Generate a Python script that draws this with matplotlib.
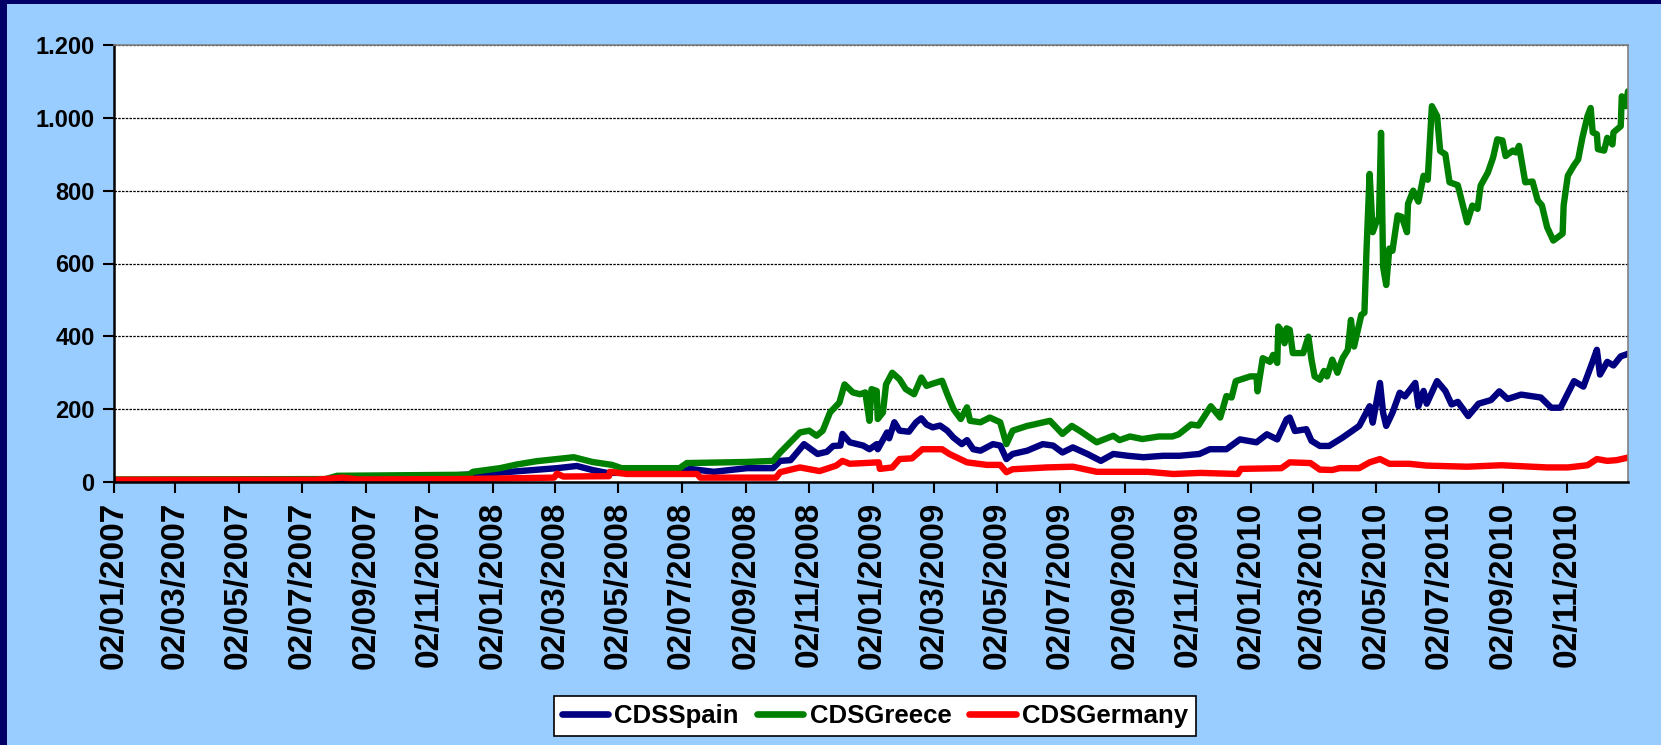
import matplotlib
matplotlib.use('Agg')
import matplotlib.pyplot as plt
import matplotlib.dates as mdates
import matplotlib.ticker as mticker
from matplotlib.patches import Rectangle
import pandas as pd

# values (bps)
greece_dates = ['2007-01-02', '2007-07-25', '2007-08-05', '2007-12-10', '2007-12-14', '2008-01-09',
                '2008-01-25', '2008-02-13', '2008-03-20', '2008-04-07', '2008-04-26', '2008-05-05',
                '2008-06-30', '2008-07-07', '2008-09-03', '2008-09-28', '2008-10-05', '2008-10-24',
                '2008-11-02', '2008-11-09', '2008-11-15', '2008-11-22', '2008-12-01', '2008-12-06',
                '2008-12-14', '2008-12-21', '2008-12-26', '2008-12-30', '2009-01-01', '2009-01-06',
                '2009-01-07', '2009-01-12', '2009-01-15', '2009-01-21', '2009-01-28', '2009-02-03',
                '2009-02-11', '2009-02-18', '2009-02-23', '2009-03-01', '2009-03-10', '2009-03-15',
                '2009-03-21', '2009-03-28', '2009-04-03', '2009-04-06', '2009-04-16', '2009-04-25',
                '2009-05-05', '2009-05-11', '2009-05-17', '2009-05-31', '2009-06-05', '2009-06-22',
                '2009-07-04', '2009-07-13', '2009-07-21', '2009-08-06', '2009-08-22', '2009-08-28',
                '2009-09-07', '2009-09-19', '2009-10-05', '2009-10-18', '2009-10-24', '2009-11-05',
                '2009-11-12', '2009-11-24', '2009-12-03', '2009-12-09', '2009-12-14', '2009-12-18',
                '2010-01-01', '2010-01-07', '2010-01-08', '2010-01-13', '2010-01-20', '2010-01-23',
                '2010-01-27', '2010-01-28', '2010-01-31', '2010-02-03', '2010-02-05', '2010-02-08',
                '2010-02-11', '2010-02-21', '2010-02-26', '2010-03-01', '2010-03-04', '2010-03-09',
                '2010-03-13', '2010-03-16', '2010-03-21', '2010-03-26', '2010-03-31', '2010-04-05',
                '2010-04-08', '2010-04-11', '2010-04-18', '2010-04-21', '2010-04-23', '2010-04-26',
                '2010-04-29', '2010-05-03', '2010-05-05', '2010-05-07', '2010-05-09', '2010-05-12',
                '2010-05-15', '2010-05-18', '2010-05-23', '2010-05-27', '2010-06-01', '2010-06-02',
                '2010-06-07', '2010-06-12', '2010-06-17', '2010-06-21', '2010-06-25', '2010-06-30',
                '2010-07-03', '2010-07-08', '2010-07-12', '2010-07-20', '2010-07-29', '2010-08-03',
                '2010-08-08', '2010-08-11', '2010-08-18', '2010-08-23', '2010-08-27', '2010-09-01',
                '2010-09-04', '2010-09-11', '2010-09-14', '2010-09-17', '2010-09-23', '2010-09-30',
                '2010-10-05', '2010-10-09', '2010-10-14', '2010-10-20', '2010-10-29', '2010-10-30',
                '2010-11-03', '2010-11-09', '2010-11-13', '2010-11-17', '2010-11-22', '2010-11-25',
                '2010-11-27', '2010-12-01', '2010-12-02', '2010-12-08', '2010-12-11', '2010-12-16',
                '2010-12-17', '2010-12-24', '2010-12-25', '2010-12-29', '2010-12-31']
greece_vals = [7, 8, 17, 20, 28, 38,
               48, 57, 68, 55, 47, 38,
               38, 52, 55, 58, 81, 136,
               141, 127, 141, 191, 218, 268,
               246, 241, 246, 168, 255, 250,
               173, 191, 268, 300, 282, 255,
               241, 287, 264, 270, 278, 241,
               200, 173, 205, 168, 164, 177,
               164, 104, 141, 154, 157, 168,
               132, 154, 140, 109, 127, 115,
               125, 118, 125, 125, 131, 158,
               155, 208, 177, 236, 232, 277,
               290, 290, 249, 340, 330, 349,
               327, 427, 415, 381, 422, 418,
               354, 354, 399, 336, 290, 281,
               305, 290, 336, 300, 340, 363,
               445, 372, 459, 465, 636, 846,
               686, 718, 718, 959, 591, 541,
               641, 635, 732, 728, 686, 764,
               800, 770, 841, 830, 1032, 1005,
               909, 900, 823, 815, 713, 759,
               750, 814, 850, 891, 941, 938,
               895, 910, 905, 923, 823, 825,
               773, 760, 700, 663, 682, 760,
               841, 870, 886, 945, 1005, 1027,
               960, 955, 914, 910, 945, 927,
               960, 977, 1059, 1032, 1073]

spain_dates = ['2007-01-02', '2007-07-01', '2007-09-01', '2007-11-25', '2008-01-10', '2008-03-04',
               '2008-03-23', '2008-04-07', '2008-04-21', '2008-06-30', '2008-07-10', '2008-08-02',
               '2008-09-03', '2008-09-28', '2008-10-05', '2008-10-15', '2008-10-28', '2008-11-10',
               '2008-11-19', '2008-11-25', '2008-12-02', '2008-12-04', '2008-12-11', '2008-12-24',
               '2008-12-30', '2009-01-06', '2009-01-07', '2009-01-16', '2009-01-18', '2009-01-23',
               '2009-01-28', '2009-02-06', '2009-02-13', '2009-02-18', '2009-02-23', '2009-03-01',
               '2009-03-08', '2009-03-15', '2009-03-21', '2009-03-29', '2009-04-03', '2009-04-09',
               '2009-04-16', '2009-04-28', '2009-05-05', '2009-05-11', '2009-05-17', '2009-05-31',
               '2009-06-15', '2009-06-25', '2009-07-04', '2009-07-14', '2009-07-28', '2009-08-10',
               '2009-08-22', '2009-09-05', '2009-09-20', '2009-10-09', '2009-10-25', '2009-11-13',
               '2009-11-23', '2009-12-09', '2009-12-22', '2010-01-07', '2010-01-17', '2010-01-27',
               '2010-02-05', '2010-02-08', '2010-02-13', '2010-02-24', '2010-03-01', '2010-03-09',
               '2010-03-18', '2010-03-31', '2010-04-16', '2010-04-26', '2010-04-29', '2010-05-06',
               '2010-05-09', '2010-05-12', '2010-05-18', '2010-05-25', '2010-05-30', '2010-06-09',
               '2010-06-12', '2010-06-17', '2010-06-20', '2010-06-30', '2010-07-08', '2010-07-14',
               '2010-07-20', '2010-07-30', '2010-08-09', '2010-08-21', '2010-08-29', '2010-09-06',
               '2010-09-19', '2010-10-08', '2010-10-18', '2010-10-27', '2010-11-09', '2010-11-18',
               '2010-11-27', '2010-12-01', '2010-12-04', '2010-12-11', '2010-12-17', '2010-12-24',
               '2010-12-31']
spain_vals = [4, 4, 8, 18, 26, 38,
              44, 33, 25, 25, 36, 28,
              38, 38, 58, 60, 104, 77,
              83, 99, 100, 132, 109, 100,
              90, 104, 90, 136, 120, 164,
              141, 138, 164, 175, 158, 150,
              155, 141, 122, 104, 115, 90,
              86, 104, 100, 63, 77, 86,
              104, 100, 81, 95, 77, 58,
              77, 72, 68, 72, 72, 77,
              90, 90, 117, 109, 131, 117,
              172, 177, 140, 145, 113, 99,
              99, 122, 154, 208, 163, 272,
              190, 154, 190, 245, 235, 272,
              208, 250, 215, 277, 250, 213,
              220, 181, 215, 225, 249, 228,
              240, 232, 204, 204, 277, 262,
              331, 363, 295, 330, 320, 345,
              352]

germany_dates = ['2007-01-02', '2007-07-15', '2007-08-10', '2007-08-25', '2007-12-01', '2008-01-15',
                 '2008-03-01', '2008-03-04', '2008-03-10', '2008-04-23', '2008-04-24', '2008-05-10',
                 '2008-07-17', '2008-07-20', '2008-10-01', '2008-10-05', '2008-10-24', '2008-11-12',
                 '2008-11-28', '2008-12-04', '2008-12-11', '2009-01-08', '2009-01-09', '2009-01-21',
                 '2009-01-28', '2009-02-09', '2009-02-19', '2009-03-10', '2009-03-17', '2009-04-03',
                 '2009-04-22', '2009-05-05', '2009-05-11', '2009-05-17', '2009-06-19', '2009-07-14',
                 '2009-08-06', '2009-09-24', '2009-10-19', '2009-11-14', '2009-12-20', '2009-12-23',
                 '2010-01-31', '2010-02-08', '2010-02-28', '2010-03-09', '2010-03-21', '2010-03-28',
                 '2010-04-16', '2010-04-26', '2010-05-06', '2010-05-15', '2010-06-03', '2010-06-20',
                 '2010-07-29', '2010-08-31', '2010-10-14', '2010-11-03', '2010-11-22', '2010-12-01',
                 '2010-12-11', '2010-12-20', '2010-12-31']
germany_vals = [6, 6, 12, 7, 8, 10,
                12, 23, 15, 16, 28, 22,
                22, 12, 12, 27, 40, 30,
                45, 58, 50, 54, 36, 40,
                63, 65, 90, 90, 77, 54,
                47, 47, 27, 35, 40, 42,
                28, 28, 22, 25, 22, 36,
                38, 54, 52, 34, 33, 38,
                38, 54, 63, 50, 50, 45,
                42, 46, 40, 40, 46, 63,
                58, 60, 67]

series = [('CDSSpain', spain_dates, spain_vals, '#000080'),
          ('CDSGreece', greece_dates, greece_vals, '#008000'),
          ('CDSGermany', germany_dates, germany_vals, '#FF0000')]

plt.rcParams['font.family'] = ['Liberation Sans', 'DejaVu Sans']
plt.rcParams['font.weight'] = 'bold'

fig = plt.figure(figsize=(16.61, 7.45), dpi=100)
fig.patch.set_facecolor('#99CCFF')
# navy frame strips, left and top
fig.patches.append(Rectangle((0, 0), 7 / 1661, 1, transform=fig.transFigure,
                             facecolor='#000066', edgecolor='none', zorder=0))
fig.patches.append(Rectangle((0, 1 - 4 / 745), 1, 4 / 745, transform=fig.transFigure,
                             facecolor='#000066', edgecolor='none', zorder=0))

ax = fig.add_axes([114 / 1661, 1 - 482 / 745, (1628 - 114) / 1661, (482 - 45) / 745])
ax.set_facecolor('white')

for name, d, v, c in series:
    ax.plot(pd.to_datetime(d), v, color=c, lw=4.6, label=name,
            solid_joinstyle='round', solid_capstyle='round')

ax.set_ylim(0, 1200)
ax.yaxis.set_major_locator(mticker.MultipleLocator(200))
ax.yaxis.set_major_formatter(mticker.FuncFormatter(lambda v, p: f'{int(v):,}'.replace(',', '.')))
ax.set_xlim(pd.Timestamp('2007-01-02'), pd.Timestamp('2010-12-31'))
ax.xaxis.set_major_locator(mdates.MonthLocator(bymonth=[1, 3, 5, 7, 9, 11], bymonthday=2))
ax.xaxis.set_major_formatter(mdates.DateFormatter('%d/%m/%Y'))

ax.grid(axis='y', color='black', lw=0.9, ls=(0, (2, 1)))
ax.set_axisbelow(True)
for s in ['left', 'bottom']:
    ax.spines[s].set_color('black')
    ax.spines[s].set_linewidth(1.8)
for s in ['top', 'right']:
    ax.spines[s].set_color('#808080')
    ax.spines[s].set_linewidth(1.2)

ax.tick_params(axis='y', direction='out', length=8, width=1.5, labelsize=17, pad=6)
ax.tick_params(axis='x', direction='out', length=8, width=1.5, labelsize=24, pad=6,
               labelrotation=90)
for lab in ax.get_xticklabels() + ax.get_yticklabels():
    lab.set_fontweight('bold')

leg = fig.legend(loc='center', bbox_to_anchor=(875 / 1661, 1 - 716 / 745), ncol=3,
                 prop={'family': ['Liberation Sans Narrow', 'Liberation Sans'],
                       'weight': 'bold', 'size': 18.5},
                 frameon=True, fancybox=False, handlelength=1.8,
                 handletextpad=0.25, columnspacing=0.7, borderpad=0.3)
leg.get_frame().set_edgecolor('black')
leg.get_frame().set_linewidth(1.2)
leg.get_frame().set_facecolor('white')
leg.get_frame().set_alpha(1)
for h in leg.legend_handles:
    h.set_linewidth(4.8)

fig.savefig('out.png', dpi=100, facecolor=fig.get_facecolor())
